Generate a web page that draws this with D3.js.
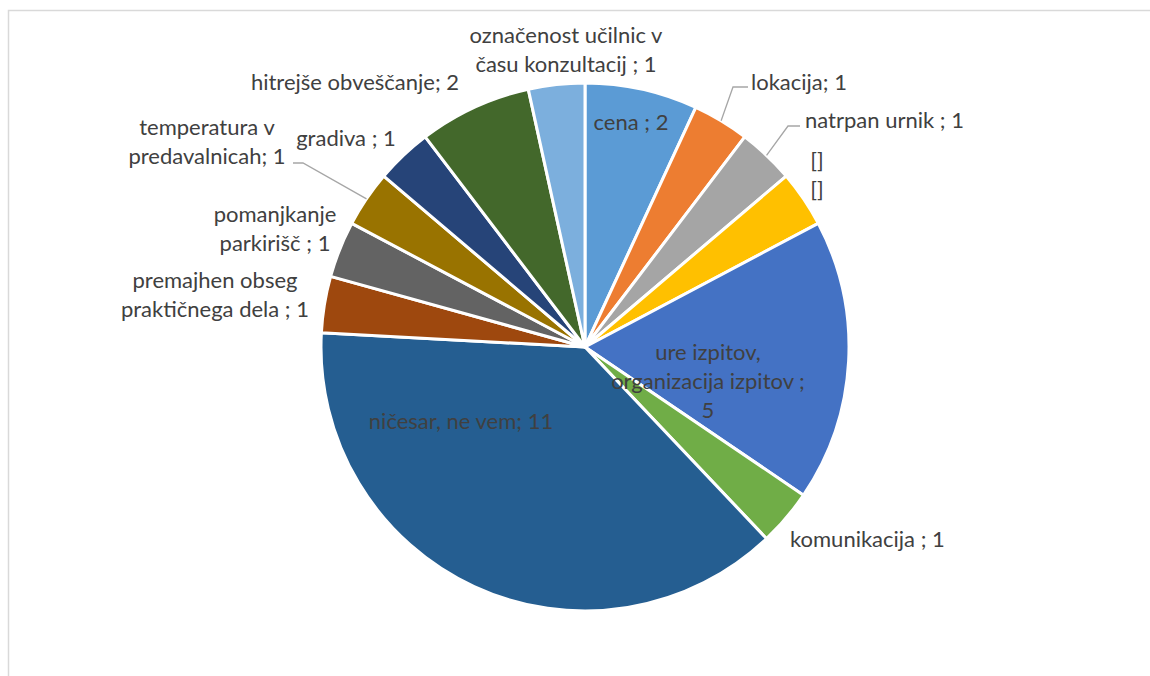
<!DOCTYPE html>
<html>
<head>
<meta charset="utf-8">
<script src="https://cdn.jsdelivr.net/npm/d3@7"></script>
<style>
  body { margin: 0; background: #fff; }
  text { font-family: Lato, "Open Sans", sans-serif; fill: #404040; }
</style>
</head>
<body>
<svg id="chart" width="1150" height="676"></svg>
<script>
// data, clockwise from 12 o'clock
const categories = [
  "cena", "lokacija", "natrpan urnik", "[]", "ure izpitov, organizacija izpitov",
  "komunikacija", "ničesar, ne vem", "premajhen obseg praktičnega dela",
  "pomanjkanje parkirišč", "temperatura v predavalnicah", "gradiva",
  "hitrejše obveščanje", "označenost učilnic v času konzultacij"
];
const values = [2, 1, 1, 1, 5, 1, 11, 1, 1, 1, 1, 2, 1];
const colors = [
  "#5B9BD5", "#ED7D31", "#A5A5A5", "#FFC000", "#4472C4", "#70AD47", "#255E91",
  "#9E480E", "#636363", "#997300", "#264478", "#43682B", "#7CAFDD"
];
// label text as it appears (lines)
const labelLines = [
  ["cena ; 2"],
  ["lokacija; 1"],
  ["natrpan urnik ; 1"],
  ["[]", "[]"],
  ["ure izpitov,", "organizacija izpitov ;", "5"],
  ["komunikacija ; 1"],
  ["ničesar, ne vem; 11"],
  ["premajhen obseg", "praktičnega dela ; 1"],
  ["pomanjkanje", "parkirišč ; 1"],
  ["temperatura v", "predavalnicah; 1"],
  ["gradiva ; 1"],
  ["hitrejše obveščanje; 2"],
  ["označenost učilnic v", "času konzultacij ; 1"]
];

// label layout (x, y of first baseline, anchor, optional leader elbow)
const labelLayout = [
  { x: 631, y: 130, a: "middle" },
  { x: 751, y: 90, a: "start", leader: [[748, 87], [733, 87]] },
  { x: 805, y: 128, a: "start", leader: [[800, 126], [788, 126]] },
  { x: 817, y: 168, a: "middle" },
  { x: 708, y: 360, a: "middle" },
  { x: 790, y: 547, a: "start" },
  { x: 461, y: 429, a: "middle" },
  { x: 215, y: 288, a: "middle" },
  { x: 275, y: 222, a: "middle" },
  { x: 207, y: 135, a: "middle", leader: [[293, 163], [303, 163]] },
  { x: 346, y: 146, a: "middle" },
  { x: 355, y: 90, a: "middle" },
  { x: 566, y: 43, a: "middle" }
];

const svg = d3.select("#chart");
const cx = 585, cy = 347, radius = 264;
const lineH = 29;

// chart frame
svg.append("rect")
  .attr("x", 8.5).attr("y", 10.5)
  .attr("width", 1200).attr("height", 700)
  .attr("fill", "none").attr("stroke", "#d9d9d9").attr("stroke-width", 1.5);

const pie = d3.pie().sort(null).value(d => d.value);
const arcs = pie(values.map((v, i) => ({ value: v, i: i })));
const arc = d3.arc().innerRadius(0).outerRadius(radius);
const edge = d3.arc().innerRadius(radius).outerRadius(radius);

const g = svg.append("g").attr("transform", `translate(${cx},${cy})`);

g.selectAll("path.slice")
  .data(arcs)
  .enter()
  .append("path")
  .attr("class", "slice")
  .attr("d", arc)
  .attr("fill", d => colors[d.data.i])
  .attr("stroke", "#fff")
  .attr("stroke-width", 3)
  .attr("stroke-linejoin", "round");

// leader lines
arcs.forEach(d => {
  const lay = labelLayout[d.data.i];
  if (!lay.leader) return;
  const p = edge.centroid(d);
  const pts = lay.leader.concat([[p[0] + cx, p[1] + cy]]);
  svg.append("path")
    .attr("d", d3.line()(pts))
    .attr("fill", "none")
    .attr("stroke", "#a6a6a6")
    .attr("stroke-width", 1.3);
});

// labels
arcs.forEach(d => {
  const lay = labelLayout[d.data.i];
  const t = svg.append("text")
    .attr("x", lay.x).attr("y", lay.y)
    .attr("text-anchor", lay.a)
    .style("font-size", "22px");
  labelLines[d.data.i].forEach((line, k) => {
    t.append("tspan")
      .attr("x", lay.x)
      .attr("dy", k === 0 ? 0 : lineH)
      .text(line);
  });
});
</script>
</body>
</html>
